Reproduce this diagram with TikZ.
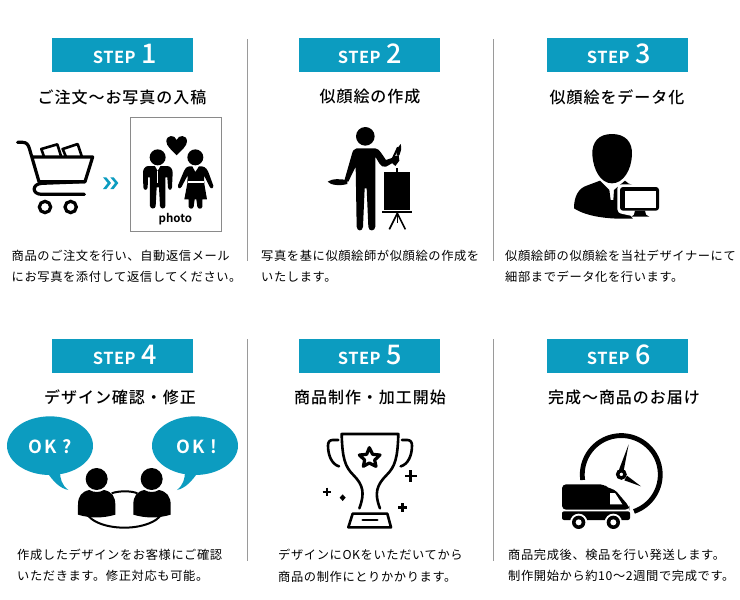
\documentclass[tikz,border=0pt]{standalone}
\usepackage{fontspec}
\setmainfont{Noto Sans CJK JP}
\newfontfamily\bodyjp[LetterSpace=5]{Noto Sans CJK JP}
\newfontfamily\titlejp[LetterSpace=6]{Noto Sans CJK JP Medium}
\newfontfamily\stepfont[LetterSpace=3]{Noto Sans CJK JP Bold}
\newfontfamily\stepnum{Noto Sans CJK JP Medium}
\newfontfamily\okfont[LetterSpace=12]{Noto Sans CJK JP Bold}
\definecolor{teal}{HTML}{0C9CC0}
\definecolor{framegray}{HTML}{8A8A8A}
\definecolor{rulegray}{HTML}{9A9A9A}
\tikzset{
  stepbox/.style={fill=teal,minimum width=141pt,minimum height=34pt,inner sep=0pt,anchor=north west},
  steptext/.style={text=white,inner sep=0pt,anchor=center},
  titletext/.style={anchor=center,inner sep=0pt,font=\titlejp\fontsize{16}{16}\selectfont},
  bodytext/.style={anchor=west,inner sep=0pt,font=\bodyjp\fontsize{12.25}{12.25}\selectfont},
  divider/.style={draw=rulegray,line width=0.9pt},
  icon/.style={scale=1/3},
  ink/.style={line width=2.6pt,line join=round,line cap=round},
  oktext/.style={text=white,inner sep=0pt,font=\okfont\fontsize{18}{18}\selectfont}
}
\newcommand{\steplabel}[1]{{\stepfont\fontsize{16.5}{16.5}\selectfont STEP}\hspace{6pt}{\stepnum\fontsize{27}{27}\selectfont #1}}
\begin{document}
\begin{tikzpicture}[x=1pt,y=-1pt]
\useasboundingbox (0,0) rectangle (740,600);
\fill[white] (0,0) rectangle (740,600);
% dividers
\coordinate (d1a) at (247.5,39); \coordinate (d1b) at (247.5,261);
\coordinate (d2a) at (493.5,39); \coordinate (d2b) at (493.5,261);
\coordinate (d3a) at (247.5,339); \coordinate (d3b) at (247.5,561);
\coordinate (d4a) at (493.5,339); \coordinate (d4b) at (493.5,561);
\draw[divider] (d1a) -- (d1b); \draw[divider] (d2a) -- (d2b);
\draw[divider] (d3a) -- (d3b); \draw[divider] (d4a) -- (d4b);
% step boxes
\node[stepbox] (s1) at (52,38) {};
\node[stepbox] (s2) at (299,38) {};
\node[stepbox] (s3) at (547,38) {};
\node[stepbox] (s4) at (52,339) {};
\node[stepbox] (s5) at (299,339) {};
\node[stepbox] (s6) at (547,339) {};
\node[steptext] (l1) at (125,54) {\steplabel{1}};
\node[steptext] (l2) at (370,54) {\steplabel{2}};
\node[steptext] (l3) at (619,54) {\steplabel{3}};
\node[steptext] (l4) at (125,355) {\steplabel{4}};
\node[steptext] (l5) at (370,355) {\steplabel{5}};
\node[steptext] (l6) at (619,355) {\steplabel{6}};
% titles
\node[titletext] (t1) at (122,97) {ご注文〜お写真の入稿};
\node[titletext] (t2) at (370,96) {似顔絵の作成};
\node[titletext] (t3) at (617,97) {似顔絵をデータ化};
\node[titletext] (t4) at (120,397) {デザイン確認・修正};
\node[titletext] (t5) at (370,397) {商品制作・加工開始};
\node[titletext] (t6) at (624,397) {完成〜商品のお届け};
% body
\node[bodytext] (b1a) at (11.5,256) {商品のご注文を行い、自動返信メール};
\node[bodytext] (b1b) at (11.5,277) {にお写真を添付して返信してください。};
\node[bodytext] (b2a) at (261,256) {写真を基に似顔絵師が似顔絵の作成を};
\node[bodytext] (b2b) at (261,277) {いたします。};
\node[bodytext] (b3a) at (505,256) {似顔絵師の似顔絵を当社デザイナーにて};
\node[bodytext] (b3b) at (505,277) {細部までデータ化を行います。};
\node[bodytext] (b4a) at (17,555) {作成したデザインをお客様にご確認};
\node[bodytext] (b4b) at (17,576) {いただきます。修正対応も可能。};
\node[bodytext] (b5a) at (278,555) {デザインにOKをいただいてから};
\node[bodytext] (b5b) at (278,577) {商品の制作にとりかかります。};
\node[bodytext] (b6a) at (508,555) {商品完成後、検品を行い発送します。};
\node[bodytext] (b6b) at (508,576) {制作開始から約10〜2週間で完成です。};

% --- cart and photo (zoom coords: origin 0,100)
\begin{scope}[shift={(0,100)},icon]
\draw[ink,line width=3.2pt] (53,127) -- (68,127) .. controls (80,127) and (85,135) .. (88,145) -- (117,245) -- (255,245) -- (278,171) -- (100,171);
\draw[ink,line width=3.2pt] (255,245) -- (125,250) .. controls (95,252) and (95,283) .. (125,283) -- (253,283);
\draw[line width=3.2pt] (135,321) circle (17);
\draw[line width=3.2pt] (212,321) circle (17);
\draw[ink] (132,170) -- (124,147) -- (172,133) -- (183,168);
\draw[ink] (197,168) -- (188,147) -- (233,132) -- (245,168);
% chevrons
\fill[teal] (309,232) -- (319,232) -- (333,249) -- (319,267) -- (309,267) -- (323,249) -- cycle;
\fill[teal] (331,232) -- (341,232) -- (355,249) -- (341,267) -- (331,267) -- (345,249) -- cycle;
% frame
\draw[framegray,line width=0.9pt] (391,52) rectangle (665,395);
% heart
\fill (530,166) .. controls (515,150) and (499,138) .. (499,124) .. controls (499,104) and (525,103) .. (530,120) .. controls (535,103) and (561,104) .. (561,124) .. controls (561,138) and (545,150) .. (530,166) -- cycle;
% man
\fill (473,172) circle (24);
\fill (445,198) -- (501,198) .. controls (512,198) and (518,208) .. (518,218) -- (516,262) .. controls (515,272) and (505,272) .. (504,262) -- (502,232) -- (496,232) -- (496,318) .. controls (496,328) and (481,328) .. (480,318) -- (477,262) -- (470,262) -- (467,318) .. controls (466,328) and (451,328) .. (450,318) -- (450,232) -- (444,232) -- (443,262) .. controls (442,272) and (431,272) .. (430,262) -- (429,218) .. controls (429,208) and (435,198) .. (445,198) -- cycle;
\fill[white] (465,198) -- (473,212) -- (481,198) -- cycle;
\draw[white,line width=.5pt] (473,212) -- (473,250);
% woman
\fill (586,172) circle (24);
\fill (568,199) -- (577,199) -- (586,216) -- (597,199) -- (606,199) .. controls (618,200) and (624,212) .. (628,224) -- (640,257) .. controls (641,266) and (632,268) .. (629,260) -- (612,226) -- (613,252) -- (621,298) -- (607,298) -- (607,320) .. controls (606,328) and (594,328) .. (592,320) -- (589,298) -- (584,298) -- (581,320) .. controls (579,328) and (568,328) .. (566,320) -- (566,298) -- (553,298) -- (562,250) -- (563,226) -- (545,260) .. controls (541,268) and (532,266) .. (534,256) -- (549,220) .. controls (553,210) and (558,200) .. (568,199) -- cycle;
\fill[white] (563,244) -- (612,244) -- (612,250) -- (563,250) -- cycle;
\node[inner sep=0pt,font=\fontspec{Noto Sans CJK JP Bold}\fontsize{11.5}{11.5}\selectfont] (photo) at (526,357) {photo};
\end{scope}

% --- painter (310,110)
\begin{scope}[shift={(310,110)},icon]
\fill (166,79) circle (28);
\fill (140,115) -- (196,115) .. controls (205,116) and (208,122) .. (213,128) -- (228,150) -- (248,143) -- (258,153) -- (228,170) .. controls (220,173) and (213,168) .. (208,160) -- (196,140) -- (196,350) .. controls (195,365) and (175,365) .. (175,350) -- (170,235) -- (164,235) -- (159,350) .. controls (158,365) and (141,365) .. (140,350) -- (137,170) -- (115,215) -- (103,212) -- (125,135) .. controls (128,122) and (132,116) .. (140,115) -- cycle;
\fill (53,215) .. controls (65,206) and (95,205) .. (112,212) -- (112,222) .. controls (90,228) and (62,226) .. (53,215) -- cycle;
\draw[line width=2pt] (246,151) -- (264,112);
\fill (260,134) .. controls (255,120) and (265,112) .. (272,102) .. controls (276,115) and (272,125) .. (268,136) -- cycle;
\fill (248,141) -- (266,135) -- (268,152) -- (256,168) -- (245,158) -- cycle;
\fill (222,187) rectangle (301,299);
\fill (258,174) rectangle (265,187);
\fill (216,304) rectangle (307,310);
\draw[line width=1.6pt] (262,310) -- (238,358);
\draw[line width=1.6pt] (262,310) -- (286,358);
\draw[line width=1.6pt] (262,310) -- (262,340);
\end{scope}

% --- person with monitor (560,120)
\begin{scope}[shift={(560,120)},icon]
\fill (156,42) .. controls (195,42) and (218,65) .. (216,105) .. controls (214,150) and (190,190) .. (156,190) .. controls (122,190) and (100,150) .. (97,105) .. controls (95,65) and (117,42) .. (156,42) -- cycle;
\fill (120,182) -- (148,210) -- (152,240) -- (160,240) -- (162,210) -- (195,182) -- (205,190) -- (255,210) -- (255,270) -- (230,295) .. controls (150,300) and (80,290) .. (42,265) .. controls (42,230) and (55,205) .. (80,197) -- cycle;
\fill[white] (172,208) .. controls (172,197) and (178,193) .. (188,193) -- (305,193) -- (305,300) -- (222,300) -- (212,287) -- (188,282) .. controls (178,280) and (172,276) .. (172,268) -- cycle;
\fill[rounded corners=3pt] (180,201) rectangle (297,272);
\fill (225,272) -- (255,272) -- (258,284) -- (268,290) -- (215,290) -- (222,284) -- cycle;
\fill[white] (195,213) rectangle (288,263);
\fill (268,265) rectangle (272,268); \fill (277,265) rectangle (281,268);
\end{scope}

% --- bubbles and people (0,410)
\begin{scope}[shift={(0,410)},icon]
\fill[teal] (150,107) ellipse (129 and 88);
\fill[teal] (140,185) .. controls (160,215) and (180,235) .. (205,240) .. controls (185,225) and (180,205) .. (180,185) -- cycle;
\fill[teal] (585,107) ellipse (129 and 88);
\fill[teal] (595,185) .. controls (575,215) and (555,235) .. (531,240) .. controls (550,225) and (555,205) .. (555,185) -- cycle;
\node[oktext] (okq) at (150,110) {OK ?};
\node[oktext] (oka) at (591,110) {OK !};
\draw[line width=2pt] (373,296) ellipse (117 and 57);
\fill[white] (300,235) rectangle (446,320);
\draw[line width=2pt] (335,250) .. controls (355,242) and (395,242) .. (412,250);
\fill (290,207) circle (33);
\fill (455,207) circle (33);
\fill (268,240) .. controls (245,245) and (234,258) .. (234,285) -- (234,314) .. controls (270,325) and (310,325) .. (346,314) -- (346,285) .. controls (346,258) and (335,245) .. (312,240) .. controls (298,248) and (282,248) .. (268,240) -- cycle;
\fill (433,240) .. controls (410,245) and (400,258) .. (400,285) -- (400,314) .. controls (436,325) and (476,325) .. (512,314) -- (512,285) .. controls (512,258) and (500,245) .. (477,240) .. controls (463,248) and (447,248) .. (433,240) -- cycle;
\end{scope}

% --- trophy (310,425)
\begin{scope}[shift={(310,425)},icon]
\draw[ink] (148,250) .. controls (165,205) and (160,180) .. (130,150) .. controls (105,125) and (97,100) .. (95,27) -- (265,27) .. controls (263,100) and (255,125) .. (230,150) .. controls (200,180) and (192,205) .. (210,250);
\draw[ink] (85,45) -- (68,45) .. controls (58,45) and (54,52) .. (54,62) .. controls (54,90) and (65,118) .. (87,124);
\draw[ink] (276,45) -- (292,45) .. controls (302,45) and (306,52) .. (306,62) .. controls (306,90) and (295,118) .. (272,124);
\draw[ink,line width=3.2pt] (178,68) -- (188,88) -- (210,90) -- (194,105) -- (198,124) -- (178,114) -- (160,124) -- (164,105) -- (148,90) -- (170,88) -- cycle;
\draw[ink] (128,266) -- (232,266) -- (243,307) -- (115,307) -- cycle;
\draw[ink] (158,285) -- (202,285);
\draw[line width=2.6pt] (285,153) -- (320,153) (302,136) -- (302,170);
\draw[line width=2.4pt] (38,201) -- (64,201) (51,188) -- (51,214);
\draw[line width=2.4pt] (265,247) -- (291,247) (278,234) -- (278,260);
\fill (98,208) -- (107,218) -- (98,228) -- (89,218) -- cycle;
\end{scope}

% --- truck and clock (555,425)
\begin{scope}[shift={(555,425)},icon]
\draw[line width=4.8pt] (83,165) arc (172:431:117);
\fill (221,58) -- (206,137) -- (192,134) -- cycle;
\fill (258,184) -- (208,166) -- (216,152) -- cycle;
\draw[line width=3.4pt] (199,148) circle (11);
\fill[rounded corners=4pt] (21,178) -- (148,178) -- (158,190) -- (178,192) -- (223,245) -- (223,254) -- (21,254) -- cycle;
\fill[white] (165,204) -- (180,204) -- (202,238) -- (165,238) -- cycle;
\fill[rounded corners=2pt] (21,259) rectangle (225,285);
\fill[white] (71,292) circle (26);
\fill[white] (175,292) circle (26);
\fill (71,292) circle (20);
\fill (175,292) circle (20);
\fill[white] (71,292) circle (9);
\fill[white] (175,292) circle (9);
\end{scope}
\end{tikzpicture}
\end{document}
